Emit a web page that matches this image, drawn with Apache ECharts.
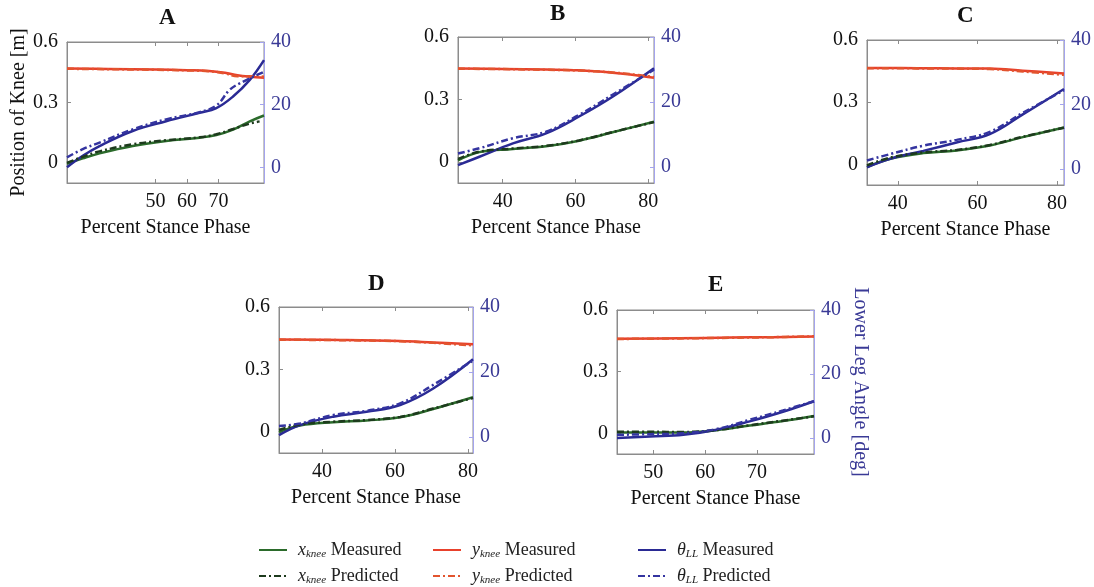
<!DOCTYPE html>
<html><head><meta charset="utf-8">
<script src="https://cdn.jsdelivr.net/npm/echarts@6/dist/echarts.min.js"></script>
<style>html,body{margin:0;padding:0;background:#fff}#c{width:1094px;height:587px}</style>
</head><body><div id="c"></div>
<script>
// ---- tick labels ----
const xTicksA = [50, 60, 70];
const xTicksB = [40, 60, 80];
const xTicksC = [40, 60, 80];
const xTicksD = [40, 60, 80];
const xTicksE = [50, 60, 70];
const yTicksLeft = [0, 0.3, 0.6];
const yTicksRight = [0, 20, 40];
const panelTitles = ['A', 'B', 'C', 'D', 'E'];

// ---- Panel A ----
const A_xMeas = [[22,-0.005],[27,0.022],[32.3,0.047],[42.8,0.084],[53.4,0.109],[64,0.125],[69.3,0.138],[74.6,0.165],[79.9,0.206],[84.4,0.235]];
const A_xPred = [[22,0.0],[27,0.03],[32.3,0.057],[42.8,0.092],[53.4,0.112],[64,0.127],[69.3,0.142],[74.6,0.168],[79.9,0.195],[83,0.206]];
const A_yMeas = [[22,0.468],[35,0.466],[50,0.463],[60,0.46],[67,0.456],[72,0.447],[76,0.435],[80,0.428],[84.4,0.423]];
const A_yPred = [[22,0.467],[35,0.465],[50,0.462],[60,0.459],[67,0.455],[72,0.444],[76,0.43],[80,0.43],[84.4,0.428]];
const A_tMeas = [[22,0.0],[27,3.7],[32.3,6.8],[42.8,11.6],[53.4,14.7],[64,17.4],[69.3,18.9],[74.6,22.6],[79.9,27.9],[84.4,34.2]];
const A_tPred = [[22,3.2],[27,5.8],[32.3,7.9],[42.8,12.1],[53.4,15.3],[64,17.6],[69.3,19.7],[73.5,24.7],[76.7,26.8],[84.4,30.5]];

// ---- Panel B ----
const B_xMeas = [[27.7,0.008],[33.6,0.048],[42.8,0.063],[51.9,0.076],[61,0.103],[70.2,0.143],[81.6,0.194]];
const B_xPred = [[27.7,0.015],[33.6,0.05],[42.8,0.065],[51.9,0.078],[61,0.104],[70.2,0.144],[81.6,0.192]];
const B_yMeas = [[27.7,0.449],[40,0.447],[51.9,0.444],[61,0.44],[70.2,0.429],[76,0.418],[81.6,0.405]];
const B_yPred = [[27.7,0.448],[40,0.446],[51.9,0.443],[61,0.439],[70.2,0.43],[76,0.42],[81.6,0.408]];
const B_tMeas = [[27.7,0.5],[33.6,3.1],[42.8,7.2],[51.9,10.3],[61,15.5],[70.2,21.6],[81.6,30.4]];
const B_tPred = [[27.7,4.1],[33.6,5.7],[42.8,8.8],[51.9,10.8],[61,16.0],[70.2,22.2],[81.6,29.9]];

// ---- Panel C ----
const C_xMeas = [[32.25,-0.013],[38.1,0.027],[46.4,0.054],[54.75,0.067],[63.1,0.091],[71.4,0.131],[81.75,0.178]];
const C_xPred = [[32.25,-0.005],[38.1,0.032],[46.4,0.057],[54.75,0.069],[63.1,0.093],[71.4,0.133],[81.75,0.176]];
const C_yMeas = [[32.25,0.465],[45,0.464],[54.75,0.463],[63.1,0.462],[71.4,0.452],[81.75,0.438]];
const C_yPred = [[32.25,0.464],[45,0.463],[54.75,0.462],[63.1,0.46],[71.4,0.448],[81.75,0.432]];
const C_tMeas = [[32.25,0.5],[38.1,3.1],[46.4,5.6],[54.75,8.2],[63.1,10.8],[71.4,16.9],[81.75,24.8]];
const C_tPred = [[32.25,2.6],[38.1,4.6],[46.4,7.2],[54.75,9.0],[63.1,11.5],[71.4,17.4],[81.75,24.4]];

// ---- Panel D ----
const D_xMeas = [[28.2,0.0],[33.95,0.032],[43.1,0.048],[52.2,0.056],[61.4,0.071],[70.5,0.111],[81.4,0.167]];
const D_xPred = [[28.2,0.01],[33.95,0.036],[43.1,0.05],[52.2,0.058],[61.4,0.073],[70.5,0.113],[81.4,0.164]];
const D_yMeas = [[28.2,0.444],[45,0.442],[61.4,0.437],[70.5,0.43],[81.4,0.421]];
const D_yPred = [[28.2,0.443],[45,0.441],[61.4,0.436],[70.5,0.428],[81.4,0.416]];
const D_tMeas = [[28.2,0.5],[33.95,3.6],[43.1,6.2],[52.2,7.7],[61.4,9.8],[70.5,14.9],[81.4,23.9]];
const D_tPred = [[28.2,3.3],[33.95,4.1],[43.1,6.7],[52.2,8.0],[61.4,10.3],[70.5,16.0],[81.4,23.5]];

// ---- Panel E ----
const E_xMeas = [[43,0.005],[49.4,0.005],[55.8,0.005],[62.2,0.016],[68.6,0.038],[75,0.06],[81,0.085]];
const E_xPred = [[43,0.008],[49.4,0.008],[55.8,0.007],[62.2,0.017],[68.6,0.04],[75,0.062],[81,0.083]];
const E_yMeas = [[43,0.46],[55,0.463],[65,0.466],[73,0.468],[81,0.471]];
const E_yPred = [[43,0.459],[55,0.462],[65,0.465],[73,0.468],[81,0.472]];
const E_tMeas = [[43,0.0],[49.4,0.5],[55.8,1.0],[62.2,2.6],[68.6,5.2],[75,8.2],[81,11.5]];
const E_tPred = [[43,1.0],[49.4,1.2],[55.8,1.5],[62.2,2.8],[68.6,5.7],[75,8.6],[81,11.5]];

// ---- layout (positions/styles only) ----
const FONT = 'Liberation Serif';
const panels = [
  {grid:{left:67, top:42, width:197, height:141}, xMin:22, xMax:84.4, ticks:xTicksA, s:[A_xMeas,A_yMeas,A_tMeas,A_xPred,A_yPred,A_tPred], cx:167, cy:16},
  {grid:{left:458, top:37, width:196, height:146}, xMin:27.7, xMax:81.6, ticks:xTicksB, s:[B_xMeas,B_yMeas,B_tMeas,B_xPred,B_yPred,B_tPred], cx:558, cy:12},
  {grid:{left:867, top:40, width:197, height:145}, xMin:32.25, xMax:81.75, ticks:xTicksC, s:[C_xMeas,C_yMeas,C_tMeas,C_xPred,C_yPred,C_tPred], cx:965, cy:14},
  {grid:{left:279, top:307, width:194, height:146}, xMin:28.2, xMax:81.4, ticks:xTicksD, s:[D_xMeas,D_yMeas,D_tMeas,D_xPred,D_yPred,D_tPred], cx:376, cy:282},
  {grid:{left:617, top:310, width:197, height:144}, xMin:43, xMax:81, ticks:xTicksE, s:[E_xMeas,E_yMeas,E_tMeas,E_xPred,E_yPred,E_tPred], cx:716, cy:283}
];
const names = ['x_knee Measured','y_knee Measured','θ_LL Measured','x_knee Predicted','y_knee Predicted','θ_LL Predicted'];
const colors = ['#2b6b2b','#e8412c','#2a2a94','#1d3a1d','#e2542e','#3434a0'];
const DASHDOT = [7,3,2,3];
const GRAY = '#8c8c8c';
const NAVY = '#3a3a96';

const grid = [], xAxis = [], yAxis = [], series = [], title = [];
panels.forEach((p, i) => {
  grid.push(Object.assign({show:true, borderColor:GRAY, borderWidth:1, backgroundColor:'#fff'}, p.grid));
  title.push({text: panelTitles[i], left: p.cx - 8, top: p.cy - 9, padding:0,
    textStyle:{fontFamily:FONT, fontWeight:'bold', fontSize:23, color:'#111'}});
  xAxis.push({type:'value', gridIndex:i, min:p.xMin, max:p.xMax, position:'bottom',
    name:'Percent Stance Phase', nameLocation:'middle', nameGap:35,
    nameTextStyle:{fontFamily:FONT, fontSize:20, color:'#111'},
    axisLine:{show:true, onZero:false, lineStyle:{color:GRAY, width:1}},
    axisTick:{show:true, inside:true, length:4, customValues:p.ticks, lineStyle:{color:GRAY}},
    axisLabel:{customValues:p.ticks, margin:9, fontFamily:FONT, fontSize:20, color:'#111'},
    splitLine:{show:false}});
  xAxis.push({type:'value', gridIndex:i, min:p.xMin, max:p.xMax, position:'top',
    axisLine:{show:true, onZero:false, lineStyle:{color:GRAY, width:1}},
    axisTick:{show:true, inside:true, length:4, customValues:p.ticks, lineStyle:{color:GRAY}},
    axisLabel:{show:false}, splitLine:{show:false}});
  const left = {type:'value', gridIndex:i, min:-0.1, max:0.6, position:'left',
    axisLine:{show:true, onZero:false, lineStyle:{color:GRAY, width:1}},
    axisTick:{show:true, inside:true, length:4, customValues:yTicksLeft, lineStyle:{color:GRAY}},
    axisLabel:{customValues:yTicksLeft, margin:9, fontFamily:FONT, fontSize:20, color:'#111',
      formatter: v => String(Math.round(v*10)/10)},
    splitLine:{show:false}};
  if (i === 0) {
    left.name = 'Position of Knee [m]'; left.nameLocation = 'middle'; left.nameGap = 34;
    left.nameTextStyle = {fontFamily:FONT, fontSize:20, color:'#111'};
  }
  yAxis.push(left);
  const right = {type:'value', gridIndex:i, min:-5, max:40, position:'right',
    axisLine:{show:true, onZero:false, lineStyle:{color:'#a4a4ee', width:1}},
    axisTick:{show:true, inside:true, length:4, customValues:yTicksRight, lineStyle:{color:'#a4a4ee'}},
    axisLabel:{customValues:yTicksRight, margin:7, fontFamily:FONT, fontSize:20, color:NAVY},
    splitLine:{show:false}};
  if (i === 4) {
    right.name = 'Lower Leg Angle [deg]'; right.nameLocation = 'middle'; right.nameGap = 36;
    right.nameRotate = -90;
    right.nameTextStyle = {fontFamily:FONT, fontSize:20, color:NAVY};
  }
  yAxis.push(right);
  p.s.forEach((d, k) => {
    const isTheta = (k % 3) === 2;
    series.push({type:'line', name:names[k], xAxisIndex:2*i, yAxisIndex:2*i + (isTheta ? 1 : 0),
      data:d, smooth:0.4, symbol:'none', silent:true, animation:false,
      lineStyle:{color:colors[k], width:2.5, type: k < 3 ? 'solid' : DASHDOT},
      itemStyle:{color:colors[k]}, z: k < 3 ? 2 : 3});
  });
});

function fmt(name){
  const parts = name.split(' ');
  const sym = parts[0].split('_');
  return '{it|' + sym[0] + '}{sub|' + sym[1] + '} ' + parts[1];
}
const legendBase = {orient:'vertical', itemWidth:28, itemHeight:10, itemGap:6, padding:0, height:60,
  selectedMode:false, formatter: fmt,
  itemStyle:{opacity:0},
  textStyle:{fontFamily:FONT, fontSize:18, color:'#222', padding:[0,0,0,6], lineHeight:20,
    rich:{it:{fontFamily:FONT, fontStyle:'italic', fontSize:18, color:'#222'},
          sub:{fontFamily:FONT, fontStyle:'italic', fontSize:11, color:'#222', padding:[8,0,0,0]}}}};
const legend = [
  Object.assign({}, legendBase, {left:258, top:540, data:[names[0], names[3]]}),
  Object.assign({}, legendBase, {left:432, top:540, data:[names[1], names[4]]}),
  Object.assign({}, legendBase, {left:637, top:540, data:[names[2], names[5]]})
];

const chart = echarts.init(document.getElementById('c'), null, {renderer:'canvas'});
chart.setOption({animation:false, backgroundColor:'#fff', title, grid, xAxis, yAxis, series, legend});
</script>
</body></html>
